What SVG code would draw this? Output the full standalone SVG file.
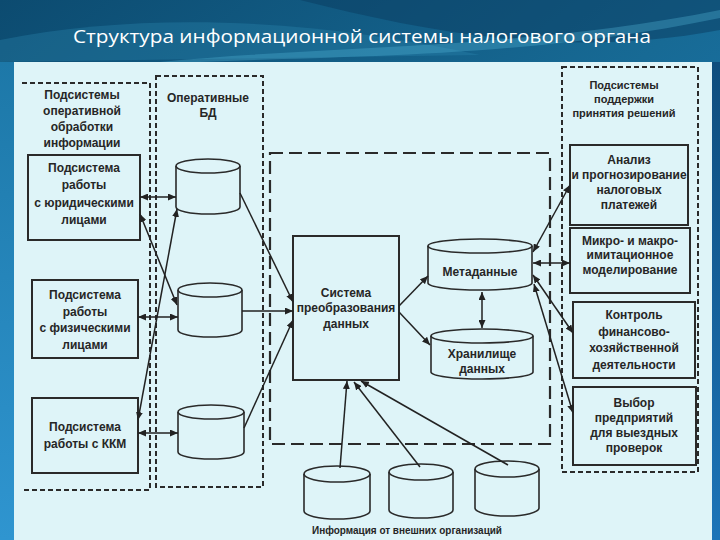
<svg xmlns="http://www.w3.org/2000/svg" width="720" height="540" viewBox="0 0 720 540">
<defs>
<linearGradient id="bg" x1="0" y1="0" x2="1" y2="1">
<stop offset="0" stop-color="#0c4b70"/>
<stop offset="0.5" stop-color="#176a95"/>
<stop offset="1" stop-color="#1f7fbf"/>
</linearGradient>
<linearGradient id="leftStrip" x1="0" y1="0" x2="0" y2="1">
<stop offset="0" stop-color="#1d78a8"/>
<stop offset="1" stop-color="#2f95d0"/>
</linearGradient>
<linearGradient id="rightStrip" x1="0" y1="0" x2="0" y2="1">
<stop offset="0" stop-color="#0e4d7d"/>
<stop offset="1" stop-color="#1c74b8"/>
</linearGradient>
<marker id="ah" viewBox="0 0 8 7" refX="8" refY="3.5" markerWidth="8" markerHeight="7" markerUnits="userSpaceOnUse" orient="auto-start-reverse">
<path d="M0,0 L8,3.5 L0,7 z" fill="#222"/>
</marker>
</defs>
<style>
.title{font-family:"Open Sans","Noto Sans",sans-serif;font-size:18px;fill:#ffffff;}
.t{font-family:"Liberation Sans",Arial,sans-serif;font-size:12px;font-weight:bold;fill:#262626;text-anchor:middle;}
.ts{font-family:"Liberation Sans",Arial,sans-serif;font-size:11px;font-weight:bold;fill:#262626;text-anchor:middle;}
.box{fill:none;stroke:#2a2a2a;stroke-width:2;}
.cyl{fill:none;stroke:#2a2a2a;stroke-width:1.6;}
.dash{fill:none;stroke:#2a2a2a;stroke-width:2;stroke-dasharray:5 3;}
.ldash{fill:none;stroke:#2a2a2a;stroke-width:2.2;stroke-dasharray:13 6;}
.c{fill:none;stroke:#222;stroke-width:1.5;}
.a1{marker-end:url(#ah);}
.a2{marker-start:url(#ah);marker-end:url(#ah);}
</style>

<!-- slide background -->
<rect x="0" y="0" width="720" height="540" fill="url(#bg)"/>
<path d="M0,40 C150,10 320,20 480,55 L0,62 Z" fill="#2a86b0" opacity="0.35"/>
<path d="M300,0 C420,30 560,60 720,30 L720,0 Z" fill="#0a3c60" opacity="0.5"/>
<path d="M160,62 C330,45 520,50 720,10 L720,18 C530,58 340,56 200,62 Z" fill="#4fb3d4" opacity="0.35"/>
<rect x="0" y="62" width="14" height="478" fill="url(#leftStrip)"/>
<rect x="712" y="62" width="8" height="478" fill="url(#rightStrip)"/>
<rect x="14" y="62" width="698" height="478" fill="#def4f8"/>

<text class="title" x="73" y="43" textLength="578" lengthAdjust="spacingAndGlyphs">Структура информационной системы налогового органа</text>

<!-- group frames -->
<g id="group-operative">
<path class="dash" d="M22,83 H150 V490 H22"/>
<text class="t" x="82" y="99">Подсистемы</text>
<text class="t" x="82" y="115">оперативной</text>
<text class="t" x="82" y="131">обработки</text>
<text class="t" x="82" y="147">информации</text>
</g>
<g id="group-opdb">
<rect class="dash" x="156" y="76" width="107" height="411"/>
<text class="t" x="208" y="102">Оперативные</text>
<text class="t" x="208" y="117">БД</text>
</g>
<g id="group-center">
<rect class="ldash" x="270" y="153" width="280" height="291"/>
</g>
<g id="group-dss">
<rect class="dash" x="562" y="67" width="136" height="405"/>
<text class="ts" x="624" y="89">Подсистемы</text>
<text class="ts" x="624" y="103">поддержки</text>
<text class="ts" x="624" y="117">принятия решений</text>
</g>

<!-- left boxes -->
<g id="box-legal">
<rect class="box" x="28" y="155" width="112" height="85"/>
<text class="t" x="84" y="172">Подсистема</text>
<text class="t" x="84" y="189">работы</text>
<text class="t" x="84" y="207">с юридическими</text>
<text class="t" x="84" y="224">лицами</text>
</g>
<g id="box-physical">
<rect class="box" x="32" y="280" width="106" height="78"/>
<text class="t" x="85" y="299">Подсистема</text>
<text class="t" x="85" y="316">работы</text>
<text class="t" x="85" y="332">с физическими</text>
<text class="t" x="85" y="349">лицами</text>
</g>
<g id="box-kkm">
<rect class="box" x="32" y="398" width="106" height="75"/>
<text class="t" x="85" y="431">Подсистема</text>
<text class="t" x="85" y="448">работы с ККМ</text>
</g>

<!-- operative DB cylinders -->
<g id="db1">
<path class="cyl" d="M176,166 V207 A32,7 0 0 0 240,207 V166"/>
<ellipse class="cyl" cx="208" cy="166" rx="32" ry="7"/>
</g>
<g id="db2">
<path class="cyl" d="M178,290 V330 A32,7 0 0 0 242,330 V290"/>
<ellipse class="cyl" cx="210" cy="290" rx="32" ry="7"/>
</g>
<g id="db3">
<path class="cyl" d="M178,412 V452 A33,7 0 0 0 244,452 V412"/>
<ellipse class="cyl" cx="211" cy="412" rx="33" ry="7"/>
</g>

<!-- center -->
<g id="transform">
<rect class="box" x="293" y="236" width="106" height="144"/>
<text class="t" x="346" y="297">Система</text>
<text class="t" x="346" y="312">преобразования</text>
<text class="t" x="346" y="328">данных</text>
</g>
<g id="metadata">
<path class="cyl" d="M428,246 V283 A52,7 0 0 0 532,283 V246"/>
<ellipse class="cyl" cx="480" cy="246" rx="52" ry="7"/>
<text class="t" x="480" y="276">Метаданные</text>
</g>
<g id="warehouse">
<path class="cyl" d="M431,336 V372 A51,7 0 0 0 533,372 V336"/>
<ellipse class="cyl" cx="482" cy="336" rx="51" ry="7"/>
<text class="t" x="482" y="358">Хранилище</text>
<text class="t" x="482" y="373">данных</text>
</g>

<!-- right boxes -->
<g id="box-analysis">
<rect class="box" x="570" y="145" width="118" height="80"/>
<text class="t" x="629" y="164">Анализ</text>
<text class="t" x="629" y="179">и прогнозирование</text>
<text class="t" x="629" y="194">налоговых</text>
<text class="t" x="629" y="209">платежей</text>
</g>
<g id="box-modeling">
<rect class="box" x="570" y="228" width="120" height="65"/>
<text class="t" x="630" y="245">Микро- и макро-</text>
<text class="t" x="630" y="259">имитационное</text>
<text class="t" x="630" y="274">моделирование</text>
</g>
<g id="box-control">
<rect class="box" x="573" y="302" width="122" height="76"/>
<text class="t" x="634" y="319">Контроль</text>
<text class="t" x="634" y="336">финансово-</text>
<text class="t" x="634" y="352">хозяйственной</text>
<text class="t" x="634" y="369">деятельности</text>
</g>
<g id="box-selection">
<rect class="box" x="573" y="387" width="123" height="78"/>
<text class="t" x="634" y="407">Выбор</text>
<text class="t" x="634" y="422">предприятий</text>
<text class="t" x="634" y="437">для выездных</text>
<text class="t" x="634" y="452">проверок</text>
</g>

<!-- external DBs -->
<g id="ext1">
<path class="cyl" d="M304,474 V511 A33,8 0 0 0 370,511 V474"/>
<ellipse class="cyl" cx="337" cy="474" rx="33" ry="8"/>
</g>
<g id="ext2">
<path class="cyl" d="M389,472 V510 A32,8 0 0 0 453,510 V472"/>
<ellipse class="cyl" cx="421" cy="472" rx="32" ry="8"/>
</g>
<g id="ext3">
<path class="cyl" d="M475,469 V508 A32,8 0 0 0 539,508 V469"/>
<ellipse class="cyl" cx="507" cy="469" rx="32" ry="8"/>
</g>
<text class="ts" x="407" y="534" textLength="190" lengthAdjust="spacingAndGlyphs">Информация от внешних организаций</text>

<!-- connectors -->
<g id="connectors">
<path class="c a2" d="M140,197 L176,197"/>
<path class="c a2" d="M138,317 L178,317"/>
<path class="c a2" d="M138,433 L178,433"/>
<path class="c a2" d="M140,214 L177,305"/>
<path class="c a2" d="M138,420 L177,209"/>
<path class="c a1" d="M240,193 L293,302"/>
<path class="c a1" d="M242,311 L293,311"/>
<path class="c a1" d="M244,428 L293,320"/>
<path class="c a1" d="M399,306 L428,276"/>
<path class="c a1" d="M399,312 L430,345"/>
<path class="c a2" d="M482,292 L482,328"/>
<path class="c a2" d="M533,252 L570,185"/>
<path class="c a2" d="M533,263 L570,263"/>
<path class="c a2" d="M533,275 L573,333"/>
<path class="c a2" d="M534,284 L573,413"/>
<path class="c a1" d="M340,468 L347,381"/>
<path class="c a1" d="M420,467 L354,382"/>
<path class="c a1" d="M508,465 L361,381"/>
</g>
</svg>
